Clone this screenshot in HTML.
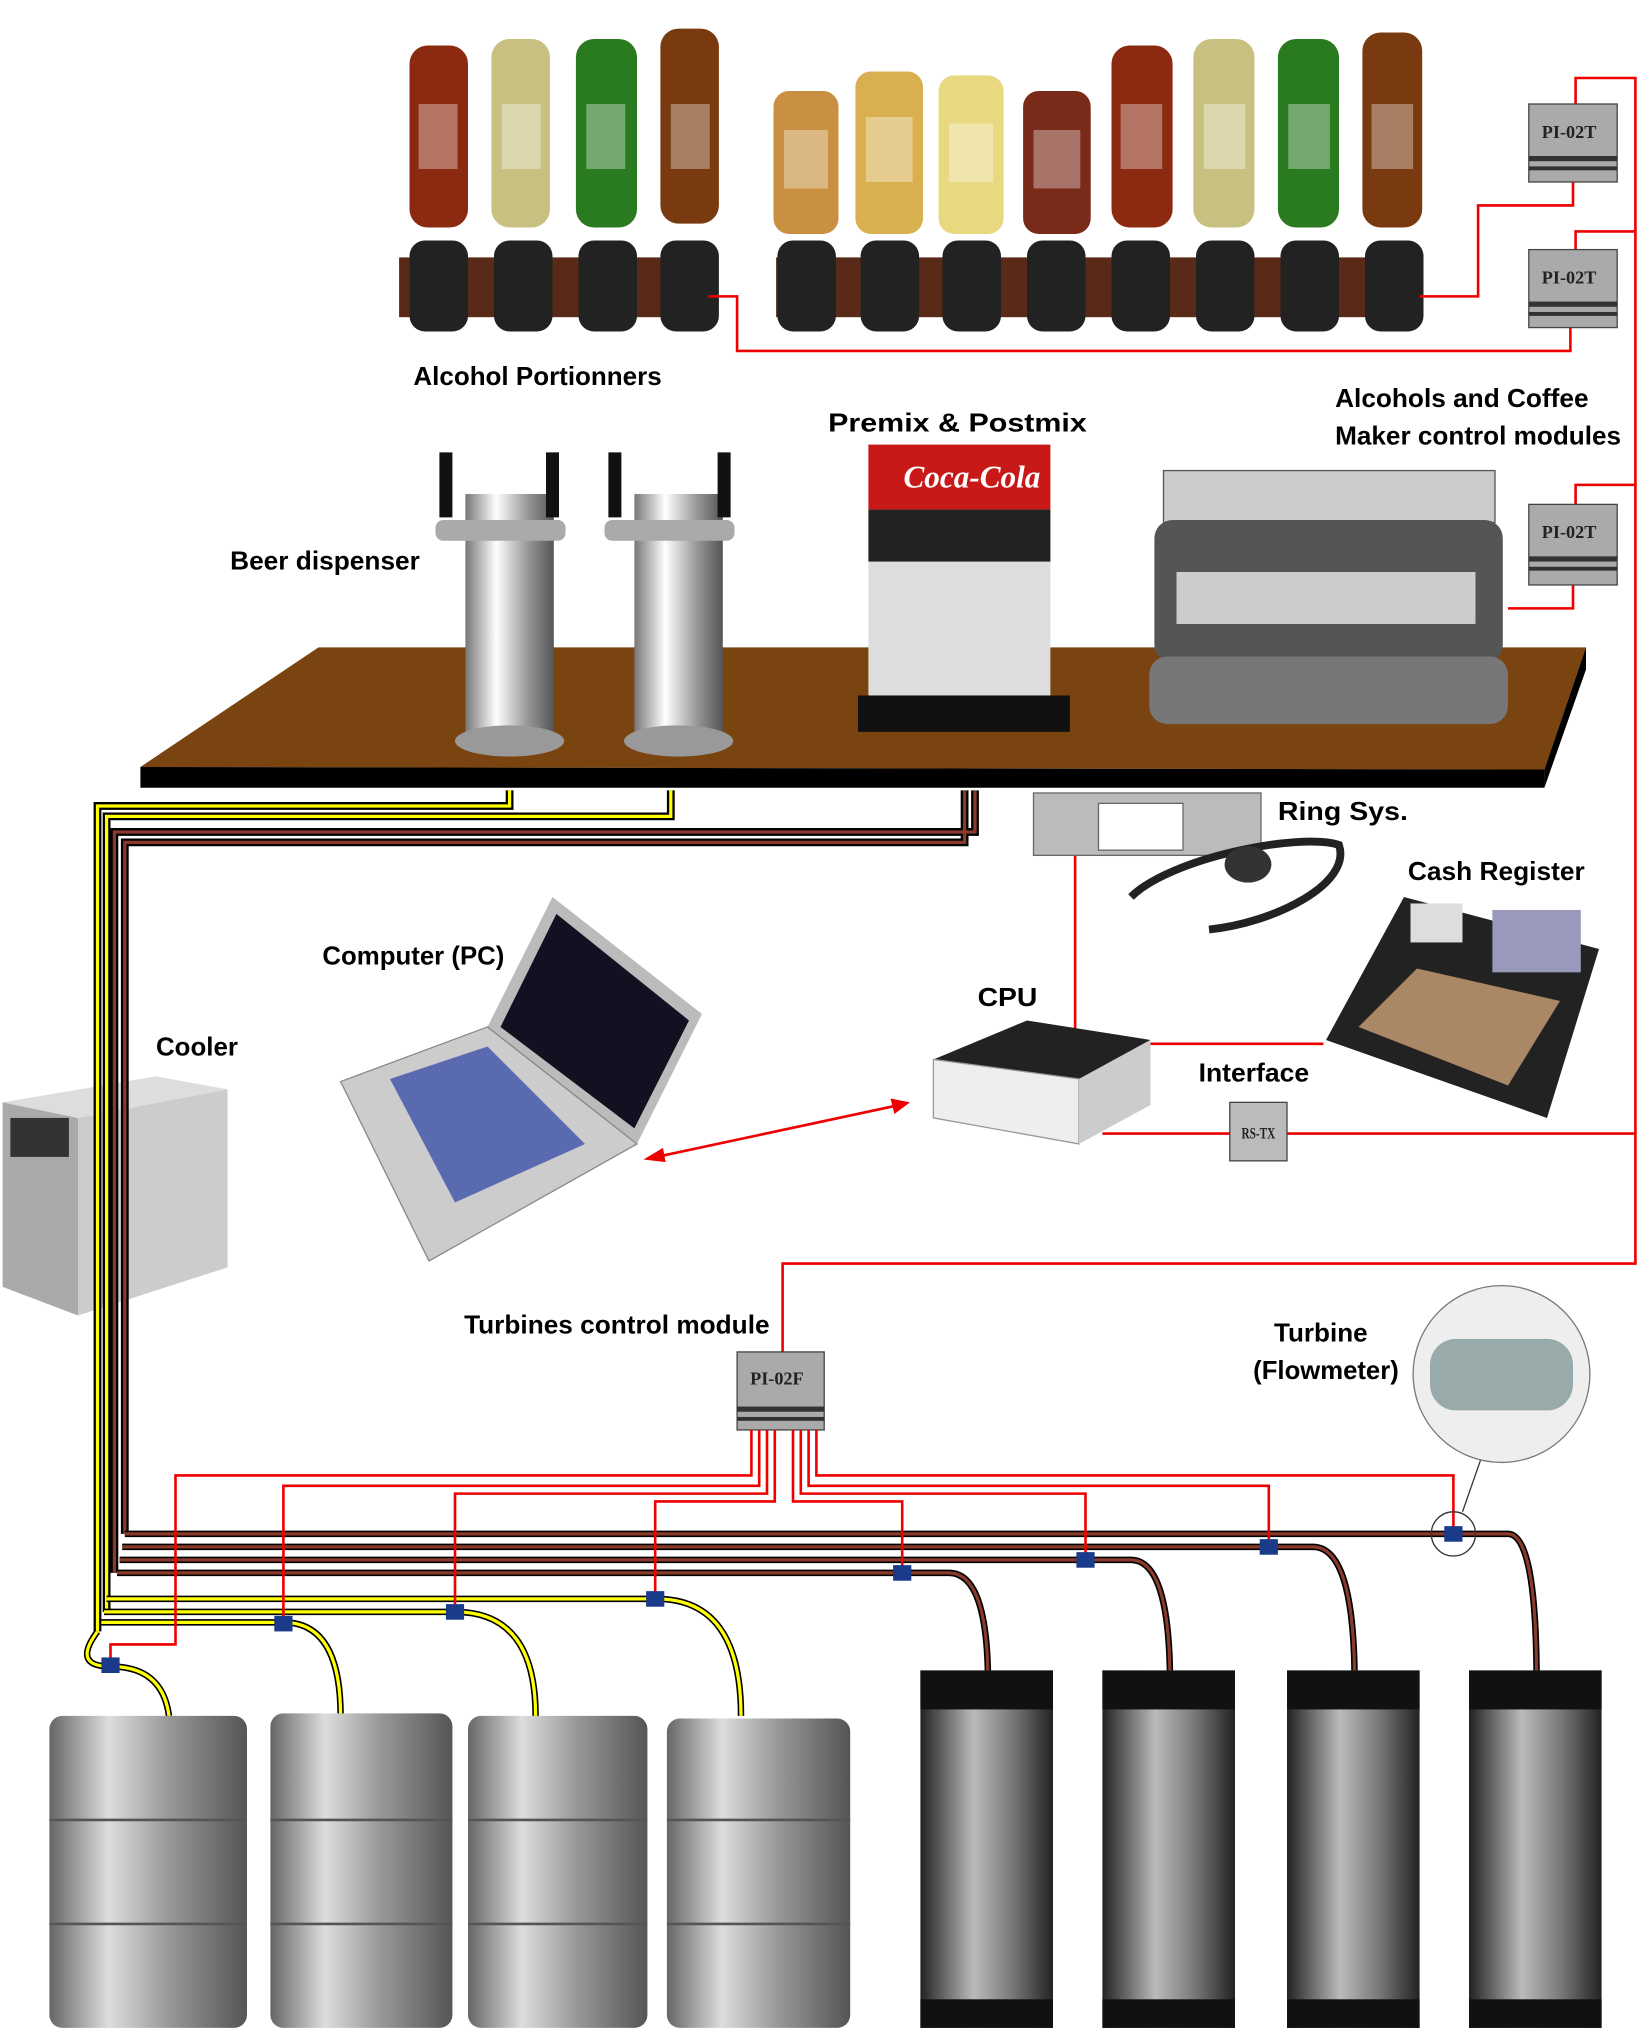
<!DOCTYPE html>
<html><head><meta charset="utf-8"><style>
html,body{margin:0;padding:0;background:#fff;}
svg{display:block;}
text{font-family:"Liberation Sans",sans-serif;font-weight:bold;fill:#000;}
.pi{font-family:"Liberation Serif",serif;font-weight:bold;font-size:14px;fill:#222;}
</style></head><body>
<svg width="1651" height="2037" viewBox="0 0 1270 1567" preserveAspectRatio="none" xmlns="http://www.w3.org/2000/svg">
<defs>
<linearGradient id="steel" x1="0" x2="1"><stop offset="0" stop-color="#666"/><stop offset="0.3" stop-color="#ddd"/><stop offset="0.6" stop-color="#999"/><stop offset="1" stop-color="#555"/></linearGradient>
<linearGradient id="dark" x1="0" x2="1"><stop offset="0" stop-color="#222"/><stop offset="0.4" stop-color="#bbb"/><stop offset="0.7" stop-color="#777"/><stop offset="1" stop-color="#222"/></linearGradient>
<linearGradient id="chrome" x1="0" x2="1"><stop offset="0" stop-color="#777"/><stop offset="0.35" stop-color="#fff"/><stop offset="0.7" stop-color="#999"/><stop offset="1" stop-color="#555"/></linearGradient>
</defs>

<rect x="307" y="198" width="240" height="46" fill="#5a2a18"/>
<rect x="597" y="198" width="495" height="46" fill="#5a2a18"/>
<g>
<rect x="315" y="35" width="45" height="140" rx="14" fill="#8b2a10"/>
<rect x="378" y="30" width="45" height="145" rx="14" fill="#c8c080"/>
<rect x="443" y="30" width="47" height="145" rx="14" fill="#2a7a20"/>
<rect x="508" y="22" width="45" height="150" rx="14" fill="#7a3a10"/>
<rect x="595" y="70" width="50" height="110" rx="12" fill="#c89040"/>
<rect x="658" y="55" width="52" height="125" rx="12" fill="#d8b050"/>
<rect x="722" y="58" width="50" height="122" rx="12" fill="#e8d880"/>
<rect x="787" y="70" width="52" height="110" rx="12" fill="#7a2a18"/>
<rect x="855" y="35" width="47" height="140" rx="14" fill="#8b2a10"/>
<rect x="918" y="30" width="47" height="145" rx="14" fill="#c8c080"/>
<rect x="983" y="30" width="47" height="145" rx="14" fill="#2a7a20"/>
<rect x="1048" y="25" width="46" height="150" rx="14" fill="#7a3a10"/>
</g>
<g fill="#fff" opacity="0.35">
<rect x="322" y="80" width="30" height="50"/><rect x="386" y="80" width="30" height="50"/><rect x="451" y="80" width="30" height="50"/><rect x="516" y="80" width="30" height="50"/>
<rect x="603" y="100" width="34" height="45"/><rect x="666" y="90" width="36" height="50"/><rect x="730" y="95" width="34" height="45"/><rect x="795" y="100" width="36" height="45"/>
<rect x="862" y="80" width="32" height="50"/><rect x="926" y="80" width="32" height="50"/><rect x="991" y="80" width="32" height="50"/><rect x="1055" y="80" width="32" height="50"/>
</g>
<g fill="#222">
<rect x="315" y="185" width="45" height="70" rx="12"/><rect x="380" y="185" width="45" height="70" rx="12"/>
<rect x="445" y="185" width="45" height="70" rx="12"/><rect x="508" y="185" width="45" height="70" rx="12"/>
<rect x="598" y="185" width="45" height="70" rx="12"/><rect x="662" y="185" width="45" height="70" rx="12"/>
<rect x="725" y="185" width="45" height="70" rx="12"/><rect x="790" y="185" width="45" height="70" rx="12"/>
<rect x="855" y="185" width="45" height="70" rx="12"/><rect x="920" y="185" width="45" height="70" rx="12"/>
<rect x="985" y="185" width="45" height="70" rx="12"/><rect x="1050" y="185" width="45" height="70" rx="12"/>
</g>

<g fill="none" stroke="#e00" stroke-width="2">
<polyline points="545,228 567,228 567,270 1208,270 1208,252"/>
<polyline points="1092,228 1137,228 1137,158 1210,158 1210,140"/>
<polyline points="1212,80 1212,60 1258,60 1258,972 602,972 602,1040"/>
<polyline points="1212,192 1212,178 1258,178"/>
<polyline points="1212,388 1212,373 1258,373"/>
<polyline points="1210,450 1210,468 1160,468"/>
<polyline points="1258,872 990,872"/>
<polyline points="946,872 848,872"/>
<polyline points="884,803 1018,803"/>
<polyline points="827,803 827,655"/>
</g>
<g>
<rect x="1176" y="80" width="68" height="60" fill="#aaa" stroke="#444"/><text class="pi" x="1186" y="106">PI-02T</text>
<rect x="1176" y="120" width="68" height="4" fill="#333"/><rect x="1176" y="128" width="68" height="3" fill="#333"/>
<rect x="1176" y="192" width="68" height="60" fill="#aaa" stroke="#444"/><text class="pi" x="1186" y="218">PI-02T</text>
<rect x="1176" y="232" width="68" height="4" fill="#333"/><rect x="1176" y="240" width="68" height="3" fill="#333"/>
<rect x="1176" y="388" width="68" height="62" fill="#aaa" stroke="#444"/><text class="pi" x="1186" y="414">PI-02T</text>
<rect x="1176" y="428" width="68" height="4" fill="#333"/><rect x="1176" y="436" width="68" height="3" fill="#333"/>
<rect x="946" y="848" width="44" height="45" fill="#bbb" stroke="#444"/><text class="pi" x="955" y="876" style="font-size:12px" textLength="26" lengthAdjust="spacingAndGlyphs">RS-TX</text>
<rect x="567" y="1040" width="67" height="60" fill="#aaa" stroke="#444"/><text class="pi" x="577" y="1065">PI-02F</text>
<rect x="567" y="1082" width="67" height="4" fill="#333"/><rect x="567" y="1090" width="67" height="3" fill="#333"/>
</g>

<polygon points="108,590 245,498 1220,498 1188,592" fill="#7a4410"/>
<polygon points="108,590 1188,592 1188,606 108,606" fill="#000"/>
<polygon points="1188,592 1220,498 1220,515 1188,606" fill="#000"/>

<g>
<rect x="358" y="380" width="68" height="190" fill="url(#chrome)"/><ellipse cx="392" cy="570" rx="42" ry="12" fill="#999"/>
<rect x="488" y="380" width="68" height="190" fill="url(#chrome)"/><ellipse cx="522" cy="570" rx="42" ry="12" fill="#999"/>
<rect x="338" y="348" width="10" height="50" fill="#111"/><rect x="420" y="348" width="10" height="50" fill="#111"/>
<rect x="468" y="348" width="10" height="50" fill="#111"/><rect x="552" y="348" width="10" height="50" fill="#111"/>
<rect x="335" y="400" width="100" height="16" rx="6" fill="#aaa"/><rect x="465" y="400" width="100" height="16" rx="6" fill="#aaa"/>
</g>
<rect x="668" y="342" width="140" height="50" fill="#c81818"/>
<text x="695" y="375" style="fill:#fff;font-style:italic;font-family:'Liberation Serif',serif;font-size:24px">Coca-Cola</text>
<rect x="668" y="392" width="140" height="145" fill="#ddd"/>
<rect x="668" y="392" width="140" height="40" fill="#222"/>
<rect x="660" y="535" width="163" height="28" fill="#111"/>
<rect x="895" y="362" width="255" height="40" fill="#ccc" stroke="#555"/>
<rect x="888" y="400" width="268" height="110" rx="14" fill="#555"/>
<rect x="905" y="440" width="230" height="40" fill="#ccc"/>
<rect x="884" y="505" width="276" height="52" rx="14" fill="#777"/>
<rect x="795" y="610" width="175" height="48" fill="#bbb" stroke="#666"/>
<rect x="845" y="618" width="65" height="36" fill="#fff" stroke="#666"/>
<path d="M870,690 C900,660 1000,640 1030,650 C1040,680 980,710 930,715" fill="none" stroke="#222" stroke-width="6"/>
<ellipse cx="960" cy="665" rx="18" ry="14" fill="#333"/>

<polygon points="375,790 425,690 540,780 490,880" fill="#bbb"/>
<polygon points="385,790 428,703 530,785 488,868" fill="#112"/>
<polygon points="262,832 375,790 490,880 330,970" fill="#ccc" stroke="#888"/>
<polygon points="300,830 375,805 450,880 350,925" fill="#5a6ab0"/>
<polygon points="718,815 790,785 885,800 830,830" fill="#222"/>
<polygon points="718,815 830,830 830,880 718,860" fill="#eee" stroke="#999"/>
<polygon points="830,830 885,800 885,850 830,880" fill="#ccc"/>
<polygon points="1020,800 1080,690 1230,730 1190,860" fill="#222"/>
<polygon points="1045,790 1090,745 1200,770 1160,835" fill="#a86"/>
<rect x="1148" y="700" width="68" height="48" fill="#99b"/>
<rect x="1085" y="695" width="40" height="30" fill="#ddd"/>

<polygon points="2,848 120,828 175,838 60,860" fill="#ddd"/>
<polygon points="2,848 60,860 60,1012 2,990" fill="#aaa"/>
<polygon points="60,860 175,838 175,975 60,1012" fill="#ccc"/>
<rect x="8" y="860" width="45" height="30" fill="#333"/>

<g fill="none" stroke-width="2.5">
<g stroke="#000" stroke-width="6"><polyline points="392,608 392,620 75,620 75,1255"/><polyline points="516,608 516,628 82,628 82,1240"/></g>
<polyline stroke="#ff0" points="392,608 392,620 75,620 75,1255"/><polyline stroke="#ff0" points="516,608 516,628 82,628 82,1240"/>
<g stroke="#000" stroke-width="5"><path d="M75,1255 Q55,1282 85,1282 Q125,1282 130,1320"/><path d="M78,1248 L218,1248 Q262,1248 262,1320"/><path d="M80,1240 L350,1240 Q412,1240 412,1320"/><path d="M82,1230 L505,1230 Q570,1230 570,1320"/></g>
<g stroke="#ff0"><path d="M75,1255 Q55,1282 85,1282 Q125,1282 130,1320"/><path d="M78,1248 L218,1248 Q262,1248 262,1320"/><path d="M80,1240 L350,1240 Q412,1240 412,1320"/><path d="M82,1230 L505,1230 Q570,1230 570,1320"/></g>
<g stroke="#000" stroke-width="6"><polyline points="750,608 750,640 88,640 88,1210"/><polyline points="742,608 742,648 96,648 96,1180"/></g>
<g stroke="#8a3a2a"><polyline points="750,608 750,640 88,640 88,1210"/><polyline points="742,608 742,648 96,648 96,1180"/></g>
<g stroke="#000" stroke-width="5"><path d="M90,1210 L730,1210 Q760,1210 760,1295"/><path d="M92,1200 L870,1200 Q900,1200 900,1295"/><path d="M94,1190 L1010,1190 Q1042,1190 1042,1295"/><path d="M96,1180 L1160,1180 Q1182,1180 1182,1295"/></g>
<g stroke="#8a3a2a"><path d="M90,1210 L730,1210 Q760,1210 760,1295"/><path d="M92,1200 L870,1200 Q900,1200 900,1295"/><path d="M94,1190 L1010,1190 Q1042,1190 1042,1295"/><path d="M96,1180 L1160,1180 Q1182,1180 1182,1295"/></g>
</g>
<g fill="none" stroke="#e00" stroke-width="2">
<polyline points="578,1100 578,1135 135,1135 135,1265 85,1265 85,1280"/>
<polyline points="584,1100 584,1143 218,1143 218,1248"/>
<polyline points="590,1100 590,1149 350,1149 350,1240"/>
<polyline points="596,1100 596,1155 504,1155 504,1230"/>
<polyline points="610,1100 610,1155 694,1155 694,1210"/>
<polyline points="616,1100 616,1149 835,1149 835,1200"/>
<polyline points="622,1100 622,1143 976,1143 976,1190"/>
<polyline points="628,1100 628,1135 1118,1135 1118,1180"/>
</g>
<g fill="#1a3a8a">
<rect x="78" y="1275" width="14" height="12"/><rect x="211" y="1243" width="14" height="12"/><rect x="343" y="1234" width="14" height="12"/><rect x="497" y="1224" width="14" height="12"/>
<rect x="687" y="1204" width="14" height="12"/><rect x="828" y="1194" width="14" height="12"/><rect x="969" y="1184" width="14" height="12"/><rect x="1111" y="1174" width="14" height="12"/>
</g>
<circle cx="1118" cy="1180" r="17" fill="none" stroke="#333"/>
<line x1="1125" y1="1163" x2="1140" y2="1120" stroke="#333"/>
<circle cx="1155" cy="1057" r="68" fill="#eee" stroke="#777"/>
<rect x="1100" y="1030" width="110" height="55" rx="20" fill="#9aa" />

<line x1="505" y1="890" x2="692" y2="850" stroke="#e00" stroke-width="2"/>
<polygon points="495,892 510,883 512,894" fill="#e00"/><polygon points="700,848 685,845 688,857" fill="#e00"/>

<g>
<rect x="38" y="1320" width="152" height="240" rx="10" fill="url(#steel)"/>
<rect x="208" y="1318" width="140" height="242" rx="10" fill="url(#steel)"/>
<rect x="360" y="1320" width="138" height="240" rx="10" fill="url(#steel)"/>
<rect x="513" y="1322" width="141" height="238" rx="10" fill="url(#steel)"/>
</g>
<g stroke="#555" stroke-width="2" fill="none">
<line x1="38" y1="1400" x2="190" y2="1400"/><line x1="38" y1="1480" x2="190" y2="1480"/>
<line x1="208" y1="1400" x2="348" y2="1400"/><line x1="208" y1="1480" x2="348" y2="1480"/>
<line x1="360" y1="1400" x2="498" y2="1400"/><line x1="360" y1="1480" x2="498" y2="1480"/>
<line x1="513" y1="1400" x2="654" y2="1400"/><line x1="513" y1="1480" x2="654" y2="1480"/>
</g>
<g>
<rect x="708" y="1285" width="102" height="275" fill="url(#dark)"/><rect x="708" y="1285" width="102" height="30" fill="#111"/><rect x="708" y="1538" width="102" height="22" fill="#111"/>
<rect x="848" y="1285" width="102" height="275" fill="url(#dark)"/><rect x="848" y="1285" width="102" height="30" fill="#111"/><rect x="848" y="1538" width="102" height="22" fill="#111"/>
<rect x="990" y="1285" width="102" height="275" fill="url(#dark)"/><rect x="990" y="1285" width="102" height="30" fill="#111"/><rect x="990" y="1538" width="102" height="22" fill="#111"/>
<rect x="1130" y="1285" width="102" height="275" fill="url(#dark)"/><rect x="1130" y="1285" width="102" height="30" fill="#111"/><rect x="1130" y="1538" width="102" height="22" fill="#111"/>
</g>

<g style="font-size:20px">
<text x="318" y="296" textLength="191" lengthAdjust="spacingAndGlyphs">Alcohol Portionners</text>
<text x="637" y="332" textLength="199" lengthAdjust="spacingAndGlyphs">Premix &amp; Postmix</text>
<text x="1027" y="313" textLength="195" lengthAdjust="spacingAndGlyphs">Alcohols and Coffee</text>
<text x="1027" y="342" textLength="220" lengthAdjust="spacingAndGlyphs">Maker control modules</text>
<text x="177" y="438" textLength="146" lengthAdjust="spacingAndGlyphs">Beer dispenser</text>
<text x="983" y="631" textLength="100" lengthAdjust="spacingAndGlyphs">Ring Sys.</text>
<text x="1083" y="677" textLength="136" lengthAdjust="spacingAndGlyphs">Cash Register</text>
<text x="248" y="742" textLength="140" lengthAdjust="spacingAndGlyphs">Computer (PC)</text>
<text x="752" y="774" textLength="46" lengthAdjust="spacingAndGlyphs">CPU</text>
<text x="120" y="812" textLength="63" lengthAdjust="spacingAndGlyphs">Cooler</text>
<text x="922" y="832" textLength="85" lengthAdjust="spacingAndGlyphs">Interface</text>
<text x="357" y="1026" textLength="235" lengthAdjust="spacingAndGlyphs">Turbines control module</text>
<text x="980" y="1032" textLength="72" lengthAdjust="spacingAndGlyphs">Turbine</text>
<text x="964" y="1061" textLength="112" lengthAdjust="spacingAndGlyphs">(Flowmeter)</text>
</g>
</svg>
</body></html>
